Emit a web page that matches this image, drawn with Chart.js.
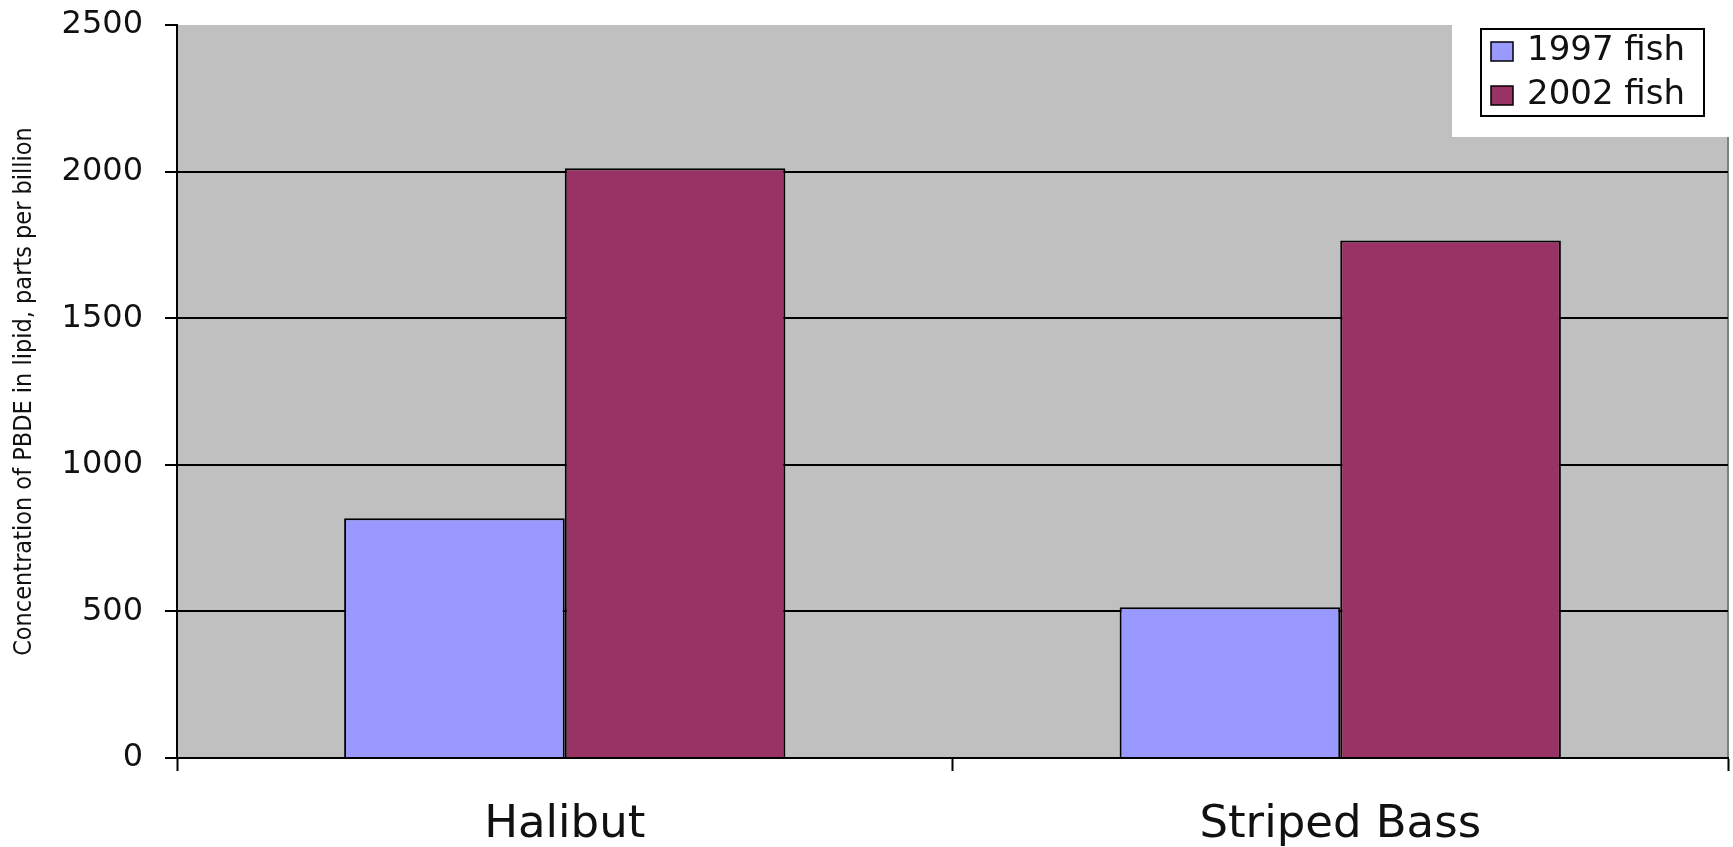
<!DOCTYPE html>
<html>
<head>
<meta charset="utf-8">
<script src="https://cdn.jsdelivr.net/npm/chart.js@4.4.0/dist/chart.umd.min.js"></script>
<style>
  html, body { margin: 0; padding: 0; background: #fff; }
  #wrap { width: 1733px; height: 847px; position: relative; }
</style>
</head>
<body>
<div id="wrap"><canvas id="pbdeChart"></canvas></div>
<script>
// PBDE concentration in fish lipid, 1997 vs 2002
const categories = ['Halibut', 'Striped Bass'];
const fish1997 = [818, 514];
const fish2002 = [2011, 1765];
const seriesLabels = ['1997 fish', '2002 fish'];
const yTicks = [0, 500, 1000, 1500, 2000, 2500];

const COLORS = {
  s1997: '#9999ff',
  s2002: '#993366',
  plot: '#c0c0c0',
  ink: '#000000',
  text: '#111111'
};

const TICK_FONT = 'DejaVu Sans, Verdana, sans-serif';

// grey plot area, white corner behind legend, right border
const plotBg = {
  id: 'plotBg',
  beforeDraw(chart) {
    const { ctx, chartArea: a } = chart;
    ctx.save();
    ctx.fillStyle = COLORS.plot;
    ctx.fillRect(a.left, a.top, a.right - a.left, a.bottom - a.top);
    ctx.fillStyle = '#ffffff';
    ctx.fillRect(1452, 0, chart.width - 1452, 137);
    ctx.strokeStyle = '#808080';
    ctx.lineWidth = 2;
    ctx.beginPath();
    ctx.moveTo(a.right, 137);
    ctx.lineTo(a.right, a.bottom);
    ctx.stroke();
    ctx.restore();
  }
};

// legend box drawn over the plot corner
const boxLegend = {
  id: 'boxLegend',
  afterDraw(chart) {
    const { ctx } = chart;
    ctx.save();
    ctx.fillStyle = '#ffffff';
    ctx.fillRect(1481, 29, 223, 87);
    ctx.strokeStyle = COLORS.ink;
    ctx.lineWidth = 2;
    ctx.strokeRect(1481, 29, 223, 87);
    const rows = [51.5, 95.5];
    chart.data.datasets.forEach((ds, i) => {
      const cy = rows[i];
      ctx.fillStyle = ds.backgroundColor;
      ctx.fillRect(1491, cy - 9.5, 22, 19);
      ctx.lineWidth = 1.5;
      ctx.strokeStyle = COLORS.ink;
      ctx.strokeRect(1491, cy - 9.5, 22, 19);
      ctx.fillStyle = COLORS.text;
      ctx.font = '34px ' + TICK_FONT;
      ctx.textBaseline = 'middle';
      ctx.textAlign = 'left';
      ctx.fillText(ds.label, 1527, cy);
    });
    ctx.restore();
  }
};

function init() {
  new Chart(document.getElementById('pbdeChart'), {
    type: 'bar',
    data: {
      labels: categories,
      datasets: [
        { label: seriesLabels[0], data: fish1997, backgroundColor: COLORS.s1997, borderColor: COLORS.ink, borderWidth: 2 },
        { label: seriesLabels[1], data: fish2002, backgroundColor: COLORS.s2002, borderColor: COLORS.ink, borderWidth: 2 }
      ]
    },
    options: {
      responsive: true, maintainAspectRatio: false, animation: false,
      categoryPercentage: 0.569, barPercentage: 1,
      layout: { padding: { top: 25, right: 5, left: 0, bottom: 0 } },
      plugins: { legend: { display: false }, tooltip: { enabled: false } },
      scales: {
        x: {
          afterFit: s => { s.height = 89; s.paddingLeft = 0; s.paddingRight = 0; },
          grid: { offset: true, drawOnChartArea: false, tickLength: 13, tickColor: COLORS.ink, tickWidth: 2 },
          border: { display: true, color: COLORS.ink, width: 2 },
          ticks: { color: COLORS.text, font: { family: TICK_FONT, size: 45 }, padding: 27 }
        },
        y: {
          min: 0, max: 2500,
          afterFit: s => { s.width = 177; s.paddingTop = 0; s.paddingBottom = 0; },
          afterBuildTicks: s => { s.ticks = yTicks.map(v => ({ value: v })); },
          grid: {
            color: c => (c.tick && c.tick.value === 2500) ? 'rgba(0,0,0,0)' : COLORS.ink,
            lineWidth: 2, tickLength: 12, tickColor: COLORS.ink, tickWidth: 2
          },
          border: { display: true, color: COLORS.ink, width: 2 },
          ticks: {
            color: COLORS.text, font: { family: TICK_FONT, size: 32 }, padding: 22,
            callback: v => String(v)
          },
          title: {
            display: true,
            text: 'Concentration of PBDE in lipid, parts per billion',
            color: COLORS.text,
            font: { family: 'Liberation Sans Narrow, DejaVu Sans Condensed, sans-serif', size: 25 },
            padding: { top: 9, bottom: 0 }
          }
        }
      }
    },
    plugins: [plotBg, boxLegend]
  });
}

document.addEventListener('DOMContentLoaded', init);
</script>
</body>
</html>
